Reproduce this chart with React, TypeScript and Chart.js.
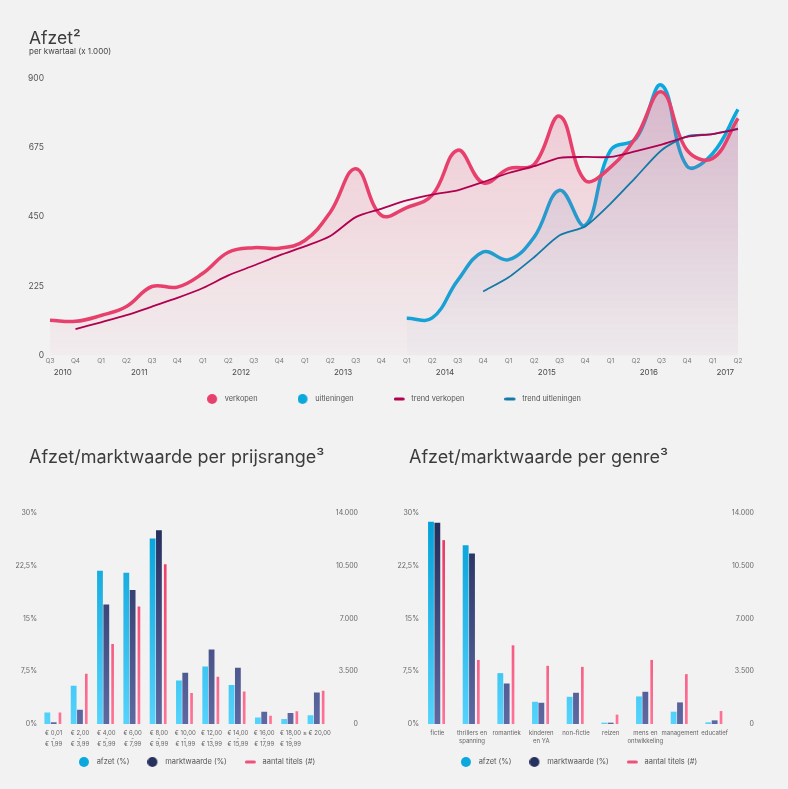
import React, { useEffect, useRef } from "react";
import { Chart, registerables } from "chart.js";

Chart.register(...registerables);

const FONT = "Inter, 'Noto Sans', 'DejaVu Sans', sans-serif";
Chart.defaults.font.family = FONT;

// ---------- Top chart data ----------
const quarterLabels = [
  "Q3", "Q4",
  "Q1", "Q2", "Q3", "Q4",
  "Q1", "Q2", "Q3", "Q4",
  "Q1", "Q2", "Q3", "Q4",
  "Q1", "Q2", "Q3", "Q4",
  "Q1", "Q2", "Q3", "Q4",
  "Q1", "Q2", "Q3", "Q4",
  "Q1", "Q2",
];
const quarterYears = [
  2010, 2010,
  2011, 2011, 2011, 2011,
  2012, 2012, 2012, 2012,
  2013, 2013, 2013, 2013,
  2014, 2014, 2014, 2014,
  2015, 2015, 2015, 2015,
  2016, 2016, 2016, 2016,
  2017, 2017,
];
const verkopen = [
  115, 111,
  130, 159, 224, 222,
  267, 335, 350, 348,
  373, 465, 606, 455,
  480, 520, 666, 560,
  606, 620, 776, 568,
  611, 709, 855, 666,
  639, 769,
];
const uitleningen = [
  null, null,
  null, null, null, null,
  null, null, null, null,
  null, null, null, null,
  121, 122, 244, 336,
  311, 384, 536, 422,
  666, 704, 877, 614,
  655, 798,
];
const trendVerkopen = [
  null, 86,
  108, 131, 159, 187,
  219, 260, 292, 325,
  354, 388, 449, 476,
  503, 522, 536, 563,
  592, 614, 641, 644,
  644, 663, 684, 709,
  718, 734,
];
const trendUitleningen = [
  null, null,
  null, null, null, null,
  null, null, null, null,
  null, null, null, null,
  null, null, null, 208,
  254, 319, 390, 419,
  493, 579, 666, 711,
  718, 736,
];
const topYTicks = [0, 225, 450, 675, 900];

// ---------- Price range chart data ----------
const prijsLabels = [
  ["€ 0,01", "-", "€ 1,99"],
  ["€ 2,00", "-", "€ 3,99"],
  ["€ 4,00", "-", "€ 5,99"],
  ["€ 6,00", "-", "€ 7,99"],
  ["€ 8,00", "-", "€ 9,99"],
  ["€ 10,00", "-", "€ 11,99"],
  ["€ 12,00", "-", "€ 13,99"],
  ["€ 14,00", "-", "€ 15,99"],
  ["€ 16,00", "-", "€ 17,99"],
  ["€ 18,00", "-", "€ 19,99"],
  ["≥ € 20,00"],
];
const afzetPrijs = [1.65, 5.43, 21.78, 21.49, 26.36, 6.19, 8.17, 5.53, 0.94, 0.71, 1.23];
const marktPrijs = [0.24, 2.03, 17.0, 19.04, 27.54, 7.27, 10.58, 7.98, 1.75, 1.56, 4.49];
const titelsPrijs = [770, 3330, 5310, 7800, 10600, 2050, 3130, 2160, 550, 840, 2200];

// ---------- Genre chart data ----------
const genreLabels = [
  ["fictie"],
  ["thrillers en", "spanning"],
  ["romantiek"],
  ["kinderen", "en YA"],
  ["non-fictie"],
  ["reizen"],
  ["mens en", "ontwikkeling"],
  ["management"],
  ["educatief"],
];
const afzetGenre = [28.77, 25.41, 7.23, 3.16, 3.87, 0.19, 3.92, 1.75, 0.24];
const marktGenre = [28.63, 24.23, 5.76, 3.02, 4.44, 0.19, 4.58, 3.07, 0.52];
const titelsGenre = [12200, 4250, 5220, 3860, 3790, 620, 4250, 3310, 860];

const pctMax = 30;
const pctStep = 7.5;
const countMax = 14000;
const countStep = 3500;

// ---------- Styles ----------
const PINK = "#e8406c";
const BLUE = "#0aa8dc";
const TREND_PINK = "#b0004f";
const TREND_BLUE = "#1479a6";
const NAVY = "#27315f";
const TEXT = "#555555";

const vGrad = (top: string, bottom: string) => (c: any) => {
  const a = c.chart.chartArea;
  if (!a) return bottom;
  const g = c.chart.ctx.createLinearGradient(0, a.top, 0, a.bottom);
  g.addColorStop(0, top);
  g.addColorStop(1, bottom);
  return g;
};

const fmtPct = (v: number) => String(v).replace(".", ",") + "%";
const fmtNum = (v: number) => String(v).replace(/\B(?=(\d{3})+(?!\d))/g, ".");

// legend icons (circle / short rounded dash), drawn at the left of a 14px box
function makeIcon(kind: "circle" | "dash", color: string) {
  const c = document.createElement("canvas");
  c.width = 14;
  c.height = 12;
  const x = c.getContext("2d")!;
  if (kind === "circle") {
    x.fillStyle = color;
    x.beginPath();
    x.arc(5, 6, 5, 0, Math.PI * 2);
    x.fill();
  } else {
    x.strokeStyle = color;
    x.lineWidth = 3;
    x.lineCap = "round";
    x.beginPath();
    x.moveTo(1.5, 6);
    x.lineTo(9.5, 6);
    x.stroke();
  }
  return c;
}

const yearLabelPlugin = {
  id: "yearLabels",
  afterDraw(chart: any) {
    const xs = chart.scales.x;
    const ctx = chart.ctx;
    const groups: Record<string, number[]> = {};
    quarterYears.forEach((y, i) => {
      const k = String(y);
      if (!groups[k]) groups[k] = [i, i];
      groups[k][1] = i;
    });
    ctx.save();
    ctx.font = `8px ${FONT}`;
    ctx.fillStyle = "#4a4a4a";
    ctx.textAlign = "center";
    ctx.textBaseline = "middle";
    Object.keys(groups).forEach((k) => {
      const [a, b] = groups[k];
      const px = (xs.getPixelForValue(a) + xs.getPixelForValue(b)) / 2;
      ctx.fillText(k, px, chart.chartArea.bottom + 17);
    });
    ctx.restore();
  },
};

const legendShiftPlugin = {
  id: "legendShift",
  afterLayout(chart: any, _args: any, opts: any) {
    const l = chart.legend;
    if (!l) return;
    const dy = (opts && opts.dy) || 0;
    const dx = (opts && opts.dx) || 0;
    l.top += dy;
    l.bottom += dy;
    l.left += dx;
    l.right += dx;
  },
};

function useChart(ref: React.RefObject<HTMLCanvasElement | null>, make: () => any) {
  useEffect(() => {
    if (!ref.current) return;
    const chart = new Chart(ref.current, make());
    return () => chart.destroy();
  }, []);
}

function legendLabels(colors: string[], kinds: ("circle" | "dash")[]) {
  return (chart: any) =>
    chart.data.datasets.map((ds: any, i: number) => ({
      text: ds.label,
      datasetIndex: i,
      fillStyle: colors[i],
      strokeStyle: colors[i],
      pointStyle: makeIcon(kinds[i], colors[i]),
      lineWidth: 0,
      hidden: false,
      fontColor: TEXT,
    }));
}

function TopChart() {
  const ref = useRef<HTMLCanvasElement>(null);
  useChart(ref, () => ({
    type: "line",
    data: {
      labels: quarterLabels,
      datasets: [
        {
          label: "verkopen",
          data: verkopen,
          borderColor: PINK,
          borderWidth: 3.5,
          backgroundColor: vGrad("rgba(232,64,108,0.24)", "rgba(232,64,108,0.03)"),
          fill: "origin",
          tension: 0.4,
          pointRadius: 0,
          order: 1,
        },
        {
          label: "uitleningen",
          data: uitleningen,
          borderColor: BLUE,
          borderWidth: 3.5,
          backgroundColor: vGrad("rgba(50,100,175,0.17)", "rgba(50,110,180,0.02)"),
          fill: "origin",
          tension: 0.4,
          pointRadius: 0,
          order: 2,
        },
        {
          label: "trend verkopen",
          data: trendVerkopen,
          borderColor: TREND_PINK,
          borderWidth: 1.8,
          fill: false,
          tension: 0.25,
          pointRadius: 0,
          order: 0,
        },
        {
          label: "trend uitleningen",
          data: trendUitleningen,
          borderColor: TREND_BLUE,
          borderWidth: 1.8,
          fill: false,
          tension: 0.25,
          pointRadius: 0,
          order: 0,
        },
      ],
    },
    options: {
      responsive: false,
      animation: false,
      layout: { padding: { top: 78, left: 28, right: 50, bottom: 0 } },
      scales: {
        x: {
          grid: { display: false, drawTicks: false },
          border: { display: false },
          ticks: {
            autoSkip: false,
            maxRotation: 0,
            font: { size: 6.5 },
            color: "#777",
            padding: 2,
          },
          afterFit: (s: any) => {
            s.height = 12;
          },
        },
        y: {
          min: topYTicks[0],
          max: topYTicks[topYTicks.length - 1],
          afterBuildTicks: (s: any) => {
            s.ticks = topYTicks.map((v) => ({ value: v }));
          },
          grid: { display: false, drawTicks: false },
          border: { display: false },
          ticks: { font: { size: 8.5 }, color: TEXT, padding: 6 },
          afterFit: (s: any) => {
            s.width = 22;
          },
        },
      },
      plugins: {
        legendShift: { dy: -12.3, dx: 0 },
        legend: {
          position: "bottom",
          fullSize: false,
          labels: {
            usePointStyle: true,
            pointStyleWidth: 14,
            padding: 40,
            color: TEXT,
            font: { size: 7.4 },
            generateLabels: legendLabels(
              [PINK, BLUE, TREND_PINK, TREND_BLUE],
              ["circle", "circle", "dash", "dash"]
            ),
          },
        },
        tooltip: { enabled: false },
      },
    },
    plugins: [yearLabelPlugin, legendShiftPlugin],
  }));
  return <canvas ref={ref} width={788} height={425} style={{ display: "block", width: 788, height: 425 }} />;
}

type BarProps = {
  labels: string[][];
  afzet: number[];
  markt: number[];
  titels: number[];
  pad: { top: number; left: number; right: number; bottom: number };
  yWidth: number;
  y1Width: number;
  yPad: number;
  catPct: number;
  xFont: number;
  xLine: number;
  xPad: number;
  legendDx: number;
};

function BarChart(p: BarProps) {
  const ref = useRef<HTMLCanvasElement>(null);
  useChart(ref, () => ({
    type: "bar",
    data: {
      labels: p.labels,
      datasets: [
        {
          label: "afzet (%)",
          data: p.afzet,
          yAxisID: "y",
          backgroundColor: vGrad("#009ed6", "#55d3fc"),
          categoryPercentage: p.catPct,
          barPercentage: 0.92,
        },
        {
          label: "marktwaarde (%)",
          data: p.markt,
          yAxisID: "y",
          backgroundColor: vGrad("#212b58", "#5e69a3"),
          categoryPercentage: p.catPct,
          barPercentage: 0.92,
        },
        {
          label: "aantal titels (#)",
          data: p.titels,
          yAxisID: "y1",
          backgroundColor: vGrad("#e6325f", "#ff7398"),
          categoryPercentage: p.catPct,
          barPercentage: 0.42,
        },
      ],
    },
    options: {
      responsive: false,
      animation: false,
      layout: { padding: p.pad },
      scales: {
        x: {
          grid: { display: false, drawTicks: false },
          border: { display: false },
          ticks: {
            autoSkip: false,
            maxRotation: 0,
            font: { size: p.xFont, lineHeight: p.xLine },
            color: "#666",
            padding: p.xPad,
          },
          afterFit: (s: any) => {
            s.height = 24;
          },
        },
        y: {
          position: "left",
          min: 0,
          max: pctMax,
          grid: { display: false, drawTicks: false },
          border: { display: false },
          ticks: {
            stepSize: pctStep,
            callback: (v: number) => fmtPct(v),
            font: { size: 7 },
            color: "#666",
            padding: p.yPad,
          },
          afterFit: (s: any) => {
            s.width = p.yWidth;
          },
        },
        y1: {
          position: "right",
          min: 0,
          max: countMax,
          grid: { display: false, drawTicks: false },
          border: { display: false },
          ticks: {
            stepSize: countStep,
            callback: (v: number) => fmtNum(v),
            font: { size: 7 },
            color: "#666",
            crossAlign: "far",
          },
          afterFit: (s: any) => {
            s.width = p.y1Width;
          },
        },
      },
      plugins: {
        legendShift: { dy: -7.75, dx: p.legendDx },
        legend: {
          position: "bottom",
          labels: {
            usePointStyle: true,
            pointStyleWidth: 14,
            padding: 18,
            color: TEXT,
            font: { size: 7.5 },
            generateLabels: legendLabels([BLUE, NAVY, "#f0507a"], ["circle", "circle", "dash"]),
          },
        },
        tooltip: { enabled: false },
      },
    },
    plugins: [legendShiftPlugin],
  }));
  return <canvas ref={ref} width={394} height={369} style={{ display: "block", width: 394, height: 369 }} />;
}

const titleStyle = (left: number, top: number, size: number): React.CSSProperties => ({
  position: "absolute",
  left,
  top,
  fontFamily: FONT,
  fontSize: size,
  lineHeight: `${size}px`,
  color: "#3c3c3c",
  whiteSpace: "nowrap",
  margin: 0,
});

export default function App() {
  return (
    <div style={{ position: "relative", width: 788, height: 789, background: "#f2f2f2", overflow: "hidden" }}>
      <style>{`html,body{margin:0;padding:0;background:#f2f2f2;}`}</style>
      <div style={{ position: "absolute", left: 0, top: 0 }}>
        <TopChart />
      </div>
      <div style={titleStyle(29, 28.6, 17.5)}>Afzet²</div>
      <div style={{ ...titleStyle(29, 46.6, 8), color: "#444" }}>per kwartaal (x 1.000)</div>
      <div style={{ position: "absolute", left: 0, top: 420 }}>
        <BarChart
          labels={prijsLabels}
          afzet={afzetPrijs}
          markt={marktPrijs}
          titels={titelsPrijs}
          pad={{ top: 93, left: 12, right: 36, bottom: 5.5 }}
          yWidth={28.5}
          y1Width={28}
          yPad={3.5}
          catPct={0.72}
          xFont={6}
          xLine={0.9}
          xPad={6.6}
          legendDx={12}
        />
      </div>
      <div style={{ position: "absolute", left: 394, top: 420 }}>
        <BarChart
          labels={genreLabels}
          afzet={afzetGenre}
          markt={marktGenre}
          titels={titelsGenre}
          pad={{ top: 93, left: 2, right: 34, bottom: 5.5 }}
          yWidth={24}
          y1Width={22}
          yPad={1}
          catPct={0.55}
          xFont={6}
          xLine={1.2}
          xPad={6}
          legendDx={4}
        />
      </div>
      <div style={titleStyle(29, 448, 18)}>Afzet/marktwaarde per prijsrange³</div>
      <div style={titleStyle(409, 448, 18)}>Afzet/marktwaarde per genre³</div>
    </div>
  );
}
